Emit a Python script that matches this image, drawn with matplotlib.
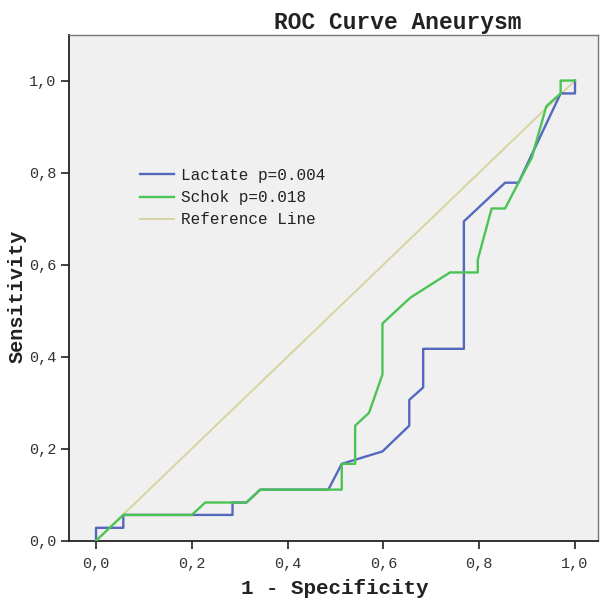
import matplotlib
matplotlib.use("Agg")
import matplotlib.pyplot as plt

# ---- data ----
lactate_x = [0, 0, 0.057, 0.057, 0.285, 0.285, 0.314, 0.343, 0.485, 0.513, 0.598,
             0.654, 0.654, 0.683, 0.683, 0.768, 0.768, 0.854, 0.882, 0.97, 1.0, 1.0]
lactate_y = [0, 0.028, 0.028, 0.056, 0.056, 0.083, 0.083, 0.111, 0.111, 0.167, 0.194,
             0.25, 0.306, 0.333, 0.417, 0.417, 0.694, 0.778, 0.778, 0.972, 0.972, 1.0]

schok_x = [0, 0.057, 0.2, 0.228, 0.314, 0.343, 0.513, 0.513, 0.541, 0.541, 0.570,
           0.598, 0.598, 0.656, 0.739, 0.797, 0.797, 0.826, 0.854, 0.882, 0.91,
           0.94, 0.97, 0.97, 1.0]
schok_y = [0, 0.056, 0.056, 0.083, 0.083, 0.111, 0.111, 0.167, 0.167, 0.25, 0.278,
           0.361, 0.472, 0.528, 0.583, 0.583, 0.611, 0.722, 0.722, 0.778, 0.833,
           0.944, 0.972, 1.0, 1.0]

ref_x = [0, 1]
ref_y = [0, 1]

series_labels = ["Lactate p=0.004", "Schok p=0.018", "Reference Line"]
ticks = [0.0, 0.2, 0.4, 0.6, 0.8, 1.0]
tick_labels = ["0,0", "0,2", "0,4", "0,6", "0,8", "1,0"]

title = "ROC Curve Aneurysm"
xlabel = "1 - Specificity"
ylabel = "Sensitivity"

# ---- styles ----
FONT = "Liberation Mono"
W, H = 600, 598
fig = plt.figure(figsize=(W / 100, H / 100), dpi=100)
fig.patch.set_facecolor("white")

left, right, top, bottom = 69, 598, 35, 540.7
ax = fig.add_axes([left / W, (H - bottom) / H, (right - left) / W, (bottom - top) / H])
ax.set_facecolor("#F0F0F0")

c_lac = "#5468BE"
c_sch = "#4CC455"
c_ref = "#D8D4A0"

ax.plot(ref_x, ref_y, color=c_ref, lw=1.4, label=series_labels[2], zorder=2)
ax.plot(lactate_x, lactate_y, color=c_lac, lw=1.7, label=series_labels[0], zorder=3)
ax.plot(schok_x, schok_y, color=c_sch, lw=1.7, label=series_labels[1], zorder=4)

ax.set_xlim(-0.0564, 1.048)
ax.set_ylim(0, 1.099)

ax.set_xticks(ticks)
ax.set_xticklabels(tick_labels, fontfamily=FONT, fontsize=11, color="#333333")
ax.set_yticks(ticks)
ax.set_yticklabels(tick_labels, fontfamily=FONT, fontsize=11, color="#333333")
ax.tick_params(axis="both", direction="out", length=6, width=1.2, color="#222222")
ax.tick_params(axis="x", pad=6)
ax.tick_params(axis="y", pad=3)

for s in ["left", "bottom"]:
    ax.spines[s].set_color("#222222")
    ax.spines[s].set_linewidth(1.3)
for s in ["top", "right"]:
    ax.spines[s].set_color("#777777")
    ax.spines[s].set_linewidth(1.0)

fig.text(398 / W, 1 - 23 / H, title, fontfamily=FONT, fontsize=16.5,
         fontweight="bold", ha="center", va="center", color="#222222")
fig.text(335 / W, 1 - 588 / H, xlabel, fontfamily=FONT, fontsize=15,
         fontweight="bold", ha="center", va="center", color="#222222")
fig.text(17 / W, 1 - 296 / H, ylabel, fontfamily=FONT, fontsize=14.5,
         fontweight="bold", ha="center", va="center", rotation=90, color="#222222")

handles, labels = ax.get_legend_handles_labels()
order = [labels.index(l) for l in series_labels]
leg = ax.legend([handles[i] for i in order], [labels[i] for i in order],
                loc="upper left", bbox_to_anchor=(140 / W, 1 - 168 / H),
                bbox_transform=fig.transFigure, frameon=False, borderpad=0,
                borderaxespad=0, handlelength=2.1, handletextpad=0.45,
                labelspacing=0.45, prop={"family": FONT, "size": 11.5})
for t in leg.get_texts():
    t.set_color("#222222")

fig.savefig("out.png", dpi=100)
